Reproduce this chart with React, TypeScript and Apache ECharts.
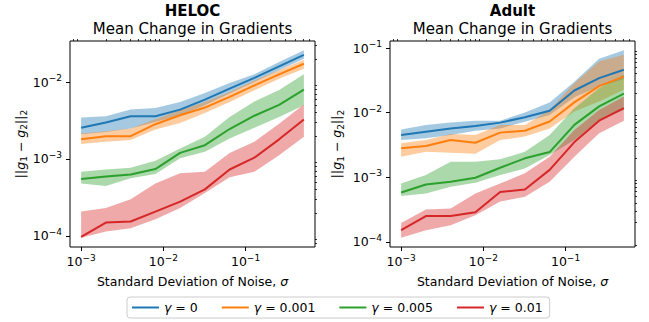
import React, { useEffect, useRef } from 'react';
import * as echarts from 'echarts';

const FONT = 'DejaVu Sans';

// noise levels (x)
const sigma = [0.001, 0.002, 0.004, 0.008, 0.016, 0.032, 0.064, 0.128, 0.256, 0.512];
const seriesNames = ['γ = 0', 'γ = 0.001', 'γ = 0.005', 'γ = 0.01'];
const colors = ['#1f77b4', '#ff7f0e', '#2ca02c', '#d62728'];
const bandColors = ['rgba(31,119,180,0.4)', 'rgba(255,127,14,0.4)', 'rgba(44,160,44,0.4)', 'rgba(214,39,40,0.4)'];

// HELOC
const helocMean0 = [2.54e-3, 2.98e-3, 3.6e-3, 3.6e-3, 4.38e-3, 5.9e-3, 8.2e-3, 1.13e-2, 1.6e-2, 2.26e-2];
const helocLow0 = [2.1e-3, 2.25e-3, 2.49e-3, 3.03e-3, 3.7e-3, 5.0e-3, 7.1e-3, 1.0e-2, 1.42e-2, 2.0e-2];
const helocHigh0 = [3.46e-3, 3.6e-3, 4.38e-3, 4.6e-3, 5.5e-3, 7.2e-3, 9.7e-3, 1.26e-2, 1.82e-2, 2.58e-2];
const helocMean1 = [1.81e-3, 1.98e-3, 1.98e-3, 2.83e-3, 3.7e-3, 4.66e-3, 6.4e-3, 9.06e-3, 1.26e-2, 1.73e-2];
const helocLow1 = [1.56e-3, 1.67e-3, 1.76e-3, 2.41e-3, 2.94e-3, 3.96e-3, 5.5e-3, 7.8e-3, 1.1e-2, 1.49e-2];
const helocHigh1 = [2.14e-3, 2.3e-3, 2.49e-3, 3.29e-3, 4.3e-3, 5.5e-3, 7.4e-3, 1.05e-2, 1.42e-2, 1.95e-2];
const helocMean2 = [5.5e-4, 5.9e-4, 6.3e-4, 7.4e-4, 1.2e-3, 1.51e-3, 2.45e-3, 3.65e-3, 5.05e-3, 7.95e-3];
const helocLow2 = [4.8e-4, 4.46e-4, 5.6e-4, 6.4e-4, 1.02e-3, 1.24e-3, 1.85e-3, 2.55e-3, 3.5e-3, 5.0e-3];
const helocHigh2 = [6.8e-4, 7.3e-4, 7.7e-4, 9.5e-4, 1.37e-3, 1.94e-3, 3.5e-3, 5.6e-3, 7.9e-3, 1.26e-2];
const helocMean3 = [9.7e-5, 1.49e-4, 1.54e-4, 2.07e-4, 2.79e-4, 4.03e-4, 7.3e-4, 1.04e-3, 1.8e-3, 3.26e-3];
const helocLow3 = [9.5e-5, 1.14e-4, 1.26e-4, 1.65e-4, 2.3e-4, 3.6e-4, 5.8e-4, 6.8e-4, 1.12e-3, 1.94e-3];
const helocHigh3 = [2.07e-4, 2.3e-4, 3.0e-4, 4.8e-4, 6.5e-4, 6.8e-4, 1.2e-3, 1.67e-3, 2.88e-3, 5.1e-3];

// Adult
const adultMean0 = [4.5e-3, 5.07e-3, 5.7e-3, 6.2e-3, 7.0e-3, 8.5e-3, 1.07e-2, 2.2e-2, 3.42e-2, 4.6e-2];
const adultLow0 = [3.77e-3, 4.0e-3, 4.5e-3, 5.25e-3, 5.7e-3, 7.2e-3, 9.2e-3, 1.73e-2, 2.54e-2, 3.3e-2];
const adultHigh0 = [5.5e-3, 6.45e-3, 7.0e-3, 7.5e-3, 7.5e-3, 1.0e-2, 1.43e-2, 3.0e-2, 6.8e-2, 9.2e-2];
const adultMean1 = [2.8e-3, 3.04e-3, 3.77e-3, 3.42e-3, 4.9e-3, 5.25e-3, 7.3e-3, 1.44e-2, 2.57e-2, 3.6e-2];
const adultLow1 = [2.07e-3, 2.48e-3, 2.4e-3, 2.3e-3, 3.77e-3, 4.25e-3, 5.7e-3, 1.04e-2, 1.48e-2, 2.25e-2];
const adultHigh1 = [3.35e-3, 3.77e-3, 4.68e-3, 4.5e-3, 6.45e-3, 6.45e-3, 1.1e-2, 2.86e-2, 6.2e-2, 7.9e-2];
const adultMean2 = [5.8e-4, 7.7e-4, 8.5e-4, 9.8e-4, 1.4e-3, 1.96e-3, 2.45e-3, 6.45e-3, 1.25e-2, 1.97e-2];
const adultLow2 = [5.1e-4, 5.6e-4, 7.1e-4, 8.2e-4, 1.08e-3, 1.37e-3, 2.2e-3, 3.77e-3, 7.7e-3, 1.1e-2];
const adultHigh2 = [8.0e-4, 1.08e-3, 1.74e-3, 1.74e-3, 1.89e-3, 2.48e-3, 4.5e-3, 1.17e-2, 2.4e-2, 3.85e-2];
const adultMean3 = [1.51e-4, 2.5e-4, 2.5e-4, 2.87e-4, 5.9e-4, 6.45e-4, 1.3e-3, 3.5e-3, 7.5e-3, 1.17e-2];
const adultLow3 = [1.16e-4, 1.51e-4, 1.8e-4, 2.58e-4, 4.2e-4, 4.97e-4, 8.5e-4, 2.07e-3, 4.8e-3, 7.5e-3];
const adultHigh3 = [1.96e-4, 3.16e-4, 3.28e-4, 5.6e-4, 8.0e-4, 1.15e-3, 2.07e-3, 5.4e-3, 1.1e-2, 1.78e-2];

const helocMeans = [helocMean0, helocMean1, helocMean2, helocMean3];
const helocLows = [helocLow0, helocLow1, helocLow2, helocLow3];
const helocHighs = [helocHigh0, helocHigh1, helocHigh2, helocHigh3];
const adultMeans = [adultMean0, adultMean1, adultMean2, adultMean3];
const adultLows = [adultLow0, adultLow1, adultLow2, adultLow3];
const adultHighs = [adultHigh0, adultHigh1, adultHigh2, adultHigh3];

const lg = (v: number) => Math.log10(v);
const expText = (n: number) => String(Math.round(n)).replace(/-/g, '−');

function paddedRange(vals: number[]): [number, number] {
  const lo = Math.min(...vals);
  const hi = Math.max(...vals);
  const m = (hi - lo) * 0.05;
  return [lo - m, hi + m];
}
function majorTicks([lo, hi]: [number, number]) {
  const out: number[] = [];
  for (let n = Math.ceil(lo); n <= Math.floor(hi); n++) out.push(n);
  return out;
}
function minorTicks([lo, hi]: [number, number]) {
  const out: number[] = [];
  for (let n = Math.floor(lo) - 1; n <= Math.ceil(hi); n++) {
    for (let k = 2; k <= 9; k++) {
      const v = n + Math.log10(k);
      if (v >= lo && v <= hi) out.push(v);
    }
  }
  return out;
}

const textBase = { fontFamily: FONT, fontSize: 12.5, color: '#000' };
const tickRich = {
  b: { ...textBase, lineHeight: 17 },
  s: { ...textBase, fontSize: 9, lineHeight: 10, verticalAlign: 'top' },
};
const nameRich = {
  n: { ...textBase, lineHeight: 17 },
  i: { ...textBase, fontStyle: 'italic', lineHeight: 17 },
  d: { ...textBase, fontSize: 9, lineHeight: 10, verticalAlign: 'bottom' },
};

function buildPanel(
  gi: number,
  means: number[][],
  lows: number[][],
  highs: number[][],
  yNameGap: number
) {
  const xExt = paddedRange(sigma.map(lg));
  const allY: number[] = [];
  means.forEach((a) => a.forEach((v) => allY.push(lg(v))));
  lows.forEach((a) => a.forEach((v) => allY.push(lg(v))));
  highs.forEach((a) => a.forEach((v) => allY.push(lg(v))));
  const yExt = paddedRange(allY);

  const xMajor = {
    type: 'value', gridIndex: gi, min: xExt[0], max: xExt[1],
    axisLine: { show: false }, splitLine: { show: false },
    axisTick: { show: true, length: 4, lineStyle: { color: '#000', width: 1 }, customValues: majorTicks(xExt) },
    axisLabel: { ...textBase, margin: 6, customValues: majorTicks(xExt), rich: tickRich, formatter: (v: number) => '{b|10}{s|' + expText(v) + '}' },
    name: '{n|Standard Deviation of Noise, }{i|σ}', nameLocation: 'middle', nameGap: 26,
    nameTextStyle: { ...textBase, rich: nameRich },
  };
  const xMinor = {
    type: 'value', gridIndex: gi, min: xExt[0], max: xExt[1],
    axisLine: { show: false }, splitLine: { show: false }, axisLabel: { show: false },
    axisTick: { show: true, length: 2, lineStyle: { color: '#000', width: 0.8 }, customValues: minorTicks(xExt) },
  };
  const yMajor = {
    type: 'value', gridIndex: gi, min: yExt[0], max: yExt[1],
    axisLine: { show: false }, splitLine: { show: false },
    axisTick: { show: true, length: 4, lineStyle: { color: '#000', width: 1 }, customValues: majorTicks(yExt) },
    axisLabel: { ...textBase, margin: 8, customValues: majorTicks(yExt), rich: tickRich, formatter: (v: number) => '{b|10}{s|' + expText(v) + '}' },
    name: '{n|||}{i|g}{d|1}{n| − }{i|g}{d|2}{n|||}{d|2}', nameLocation: 'middle', nameGap: yNameGap, nameRotate: 90,
    nameTextStyle: { ...textBase, rich: nameRich },
  };
  const yMinor = {
    type: 'value', gridIndex: gi, min: yExt[0], max: yExt[1],
    axisLine: { show: false }, splitLine: { show: false }, axisLabel: { show: false },
    axisTick: { show: true, length: 2, lineStyle: { color: '#000', width: 0.8 }, customValues: minorTicks(yExt) },
  };

  const axisIdx = gi * 2;
  const bands = means.map((_, s) => {
    const pts = sigma.map((x, i) => [lg(x), lg(lows[s][i]), lg(highs[s][i])]);
    return {
      type: 'custom', name: 'band' + gi + s, xAxisIndex: axisIdx, yAxisIndex: axisIdx,
      silent: true, z: 1, data: pts, encode: { x: 0, y: [1, 2] },
      renderItem: (params: any, api: any) => {
        if (params.dataIndex !== 0) return null;
        const upper = pts.map((p) => api.coord([p[0], p[2]]));
        const lower = pts.map((p) => api.coord([p[0], p[1]])).reverse();
        return { type: 'polygon', shape: { points: upper.concat(lower) }, style: { fill: bandColors[s] } };
      },
    };
  });
  const lines = means.map((m, s) => ({
    type: 'line', name: seriesNames[s], xAxisIndex: axisIdx, yAxisIndex: axisIdx,
    data: sigma.map((x, i) => [lg(x), lg(m[i])]),
    symbol: 'none', showSymbol: false, color: colors[s], z: 3,
    lineStyle: { width: 2, color: colors[s] },
  }));
  return { xAxes: [xMajor, xMinor], yAxes: [yMajor, yMinor], series: [...bands, ...lines] };
}

export default function App() {
  const ref = useRef<HTMLDivElement>(null);
  useEffect(() => {
    if (!ref.current) return;
    const chart = echarts.init(ref.current, null, { renderer: 'svg' });
    const p0 = buildPanel(0, helocMeans, helocLows, helocHighs, 40);
    const p1 = buildPanel(1, adultMeans, adultLows, adultHighs, 45);
    const titleStyle = (bold: boolean) => ({ fontFamily: FONT, fontSize: 15, lineHeight: 17, color: '#000', fontWeight: bold ? 'bold' : 'normal' });
    chart.setOption({
      animation: false,
      backgroundColor: '#fff',
      title: [
        { text: 'HELOC', left: 192.5, top: 2, textAlign: 'center', padding: 0, textStyle: titleStyle(true) },
        { text: 'Mean Change in Gradients', left: 192.5, top: 20, textAlign: 'center', padding: 0, textStyle: titleStyle(false) },
        { text: 'Adult', left: 512.5, top: 2, textAlign: 'center', padding: 0, textStyle: titleStyle(true) },
        { text: 'Mean Change in Gradients', left: 512.5, top: 20, textAlign: 'center', padding: 0, textStyle: titleStyle(false) },
      ],
      grid: [
        { left: 70, top: 41, width: 245, height: 206, show: true, borderColor: '#000', borderWidth: 1, backgroundColor: 'transparent', containLabel: false },
        { left: 390, top: 41, width: 245, height: 206, show: true, borderColor: '#000', borderWidth: 1, backgroundColor: 'transparent', containLabel: false },
      ],
      xAxis: [...p0.xAxes, ...p1.xAxes],
      yAxis: [...p0.yAxes, ...p1.yAxes],
      legend: {
        data: seriesNames, left: 127, top: 297, orient: 'horizontal',
        icon: 'rect', itemWidth: 27, itemHeight: 2, itemGap: 24,
        padding: [4, 7, 4, 5], borderColor: '#cccccc', borderWidth: 1, borderRadius: 3,
        selectedMode: false,
        textStyle: { ...textBase, rich: { i: { ...textBase, fontStyle: 'italic' }, n: { ...textBase } } },
        formatter: (name: string) => '{i|γ}{n|' + name.slice(1) + '}',
      },
      series: [...p0.series, ...p1.series],
    });
    return () => chart.dispose();
  }, []);
  return <div ref={ref} style={{ position: 'absolute', left: 0, top: 0, width: 649, height: 322 }} />;
}
